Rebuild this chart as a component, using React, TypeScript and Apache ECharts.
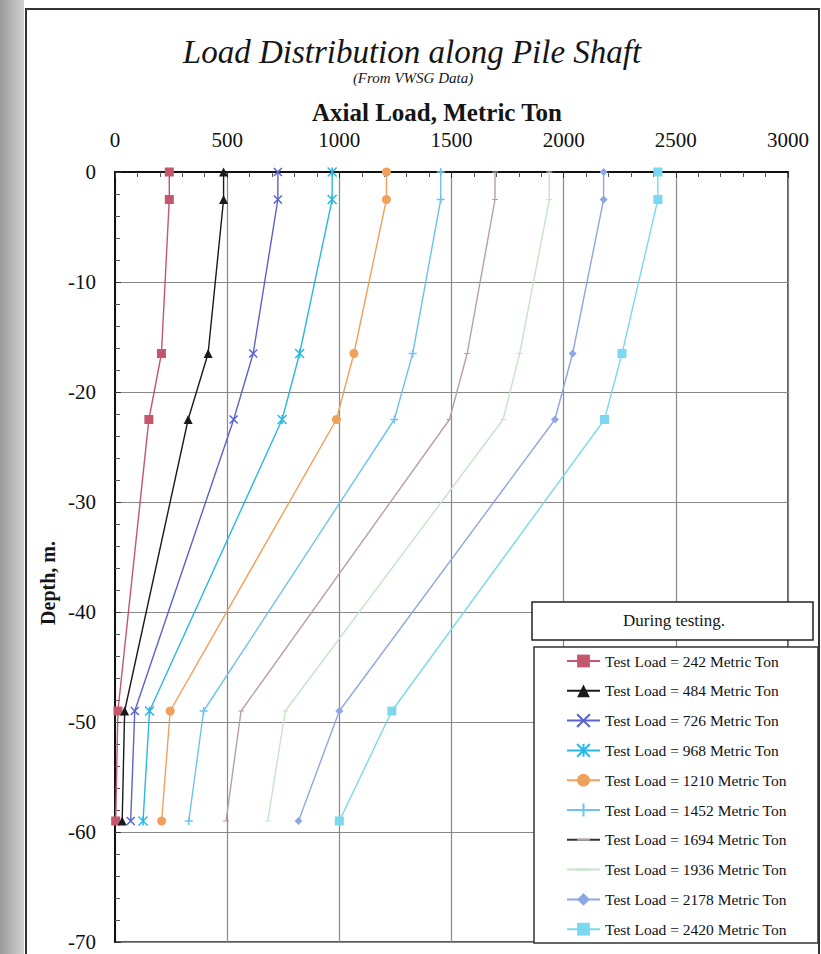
import React, { useEffect, useRef } from "react";
import * as echarts from "echarts";

const depths = [0, -2.5, -16.5, -22.5, -49, -59];
const testLoads = [242, 484, 726, 968, 1210, 1452, 1694, 1936, 2178, 2420];
const load242 = [242, 242, 207, 151, 13, 3];
const load484 = [484, 484, 415, 326, 43, 32];
const load726 = [726, 726, 616, 529, 88, 70];
const load968 = [968, 968, 823, 745, 154, 125];
const load1210 = [1210, 1210, 1065, 987, 246, 208];
const load1452 = [1452, 1452, 1327, 1245, 395, 329];
const load1694 = [1694, 1694, 1570, 1491, 562, 495];
const load1936 = [1936, 1936, 1804, 1730, 759, 681];
const load2178 = [2178, 2178, 2040, 1961, 1000, 818];
const load2420 = [2420, 2420, 2260, 2182, 1234, 1000];
const xTicks = [0, 500, 1000, 1500, 2000, 2500, 3000];
const yTicks = [0, -10, -20, -30, -40, -50, -60, -70];

const allLoads = [load242, load484, load726, load968, load1210, load1452, load1694, load1936, load2178, load2420];
const colors = ["#c4566e", "#1a1a1a", "#5a62cc", "#2ab8e0", "#f0a05a", "#6ec2ee", "#b89cb0", "#c6e4c6", "#8ea6e2", "#7ad8f0"];
const legendLine = ["#c4566e", "#1a1a1a", "#5a62cc", "#2ab8e0", "#f0a05a", "#6ec2ee", "#333333", "#c6e4c6", "#8ea6e2", "#7ad8f0"];
const DASH = "path://M0,4.2L10,4.2L10,5.8L0,5.8Z M5,0L5.01,0L5.01,0.01Z M5,10L5.01,10L5.01,9.99Z";
const symbols = [
  "rect",
  "triangle",
  "path://M0,0L10,10M10,0L0,10",
  "path://M0,0L10,10M10,0L0,10M5,0L5,10",
  "circle",
  "path://M5,0L5,10M2,5L8,5",
  DASH,
  DASH,
  "diamond",
  "rect",
];
const symbolSizes = [9, 9, 8, 9, 9, 8, 6, 6, 8, 9];
const strokeOnly = [false, false, true, true, false, true, false, false, false, false];

const FONT = "Liberation Serif";

export default function App() {
  const ref = useRef<HTMLDivElement>(null);
  useEffect(() => {
    if (!ref.current) return;
    const chart = echarts.init(ref.current, undefined, { renderer: "svg" });
    const names = testLoads.map((t) => `Test Load = ${t} Metric Ton`);
    const series = allLoads.map((arr, i) => ({
      name: names[i],
      type: "line",
      data: arr.map((v, j) => [v, depths[j]]),
      symbol: symbols[i],
      symbolSize: symbolSizes[i],
      showSymbol: true,
      lineStyle: { color: colors[i], width: 1.4 },
      itemStyle: strokeOnly[i]
        ? { color: colors[i], borderColor: colors[i], borderWidth: 1.5 }
        : { color: colors[i] },
      z: 3,
    }));
    const txt = (x: number, y: number, text: string, size: number, weight: string, style: string, rotation = 0) => ({
      type: "text",
      z: 60,
      x,
      y,
      rotation,
      style: {
        text,
        fontFamily: FONT,
        fontSize: size,
        fontWeight: weight,
        fontStyle: style,
        fill: "#151515",
        align: "center",
        verticalAlign: "middle",
      },
    });
    const option: any = {
      animation: false,
      backgroundColor: "#ffffff",
      textStyle: { fontFamily: FONT },
      grid: {
        left: 115,
        right: 33,
        top: 172,
        bottom: 12,
        containLabel: false,
        show: true,
        borderColor: "#222",
        borderWidth: 1.5,
      },
      xAxis: {
        type: "value",
        position: "top",
        min: xTicks[0],
        max: xTicks[xTicks.length - 1],
        interval: 500,
        axisLine: { show: true, lineStyle: { color: "#111", width: 2 } },
        axisTick: { show: true, inside: true, length: 6, lineStyle: { color: "#333" } },
        minorTick: { show: true, splitNumber: 5, length: 5, lineStyle: { color: "#555" } },
        splitLine: { show: true, lineStyle: { color: "#888", width: 1.2 } },
        axisLabel: {
          fontSize: 21,
          color: "#111",
          fontFamily: FONT,
          margin: 22,
          formatter: (v: number) => String(v),
        },
      },
      yAxis: {
        type: "value",
        min: yTicks[yTicks.length - 1],
        max: yTicks[0],
        interval: 10,
        axisLine: { show: true, lineStyle: { color: "#111", width: 2 } },
        axisTick: { show: true, inside: true, length: 6, lineStyle: { color: "#333" } },
        minorTick: { show: true, splitNumber: 5, length: 5, lineStyle: { color: "#555" } },
        splitLine: { show: true, lineStyle: { color: "#888", width: 1.2 } },
        axisLabel: {
          fontSize: 21,
          color: "#111",
          fontFamily: FONT,
          margin: 19,
          formatter: (v: number) => String(v),
        },
      },
      legend: {
        show: true,
        orient: "vertical",
        left: 561,
        top: 648,
        z: 100,
        itemWidth: 33,
        itemHeight: 16,
        itemGap: 13.8,
        textStyle: { fontSize: 15.5, lineHeight: 16, color: "#111", fontFamily: FONT },
        data: names.map((n, i) => ({ name: n, lineStyle: { color: legendLine[i] } })),
      },
      graphic: [
        {
          type: "rect",
          z: 1,
          shape: { x: 0, y: 0, width: 24, height: 954 },
          style: {
            fill: new echarts.graphic.LinearGradient(0, 0, 1, 0, [
              { offset: 0, color: "#9a9a9a" },
              { offset: 1, color: "#d2d2d2" },
            ]),
          },
        },
        {
          type: "polyline",
          z: 1,
          shape: { points: [[26, 954], [26, 9], [819, 9], [819, 954]] },
          style: { stroke: "#333", lineWidth: 2, fill: "none" },
        },
        txt(412, 52, "Load Distribution along Pile Shaft", 33, "normal", "italic"),
        txt(413, 78, "(From VWSG Data)", 15, "normal", "italic"),
        txt(437, 112, "Axial Load, Metric Ton", 25, "bold", "normal"),
        txt(48, 583, "Depth, m.", 20, "bold", "normal", Math.PI / 2),
        {
          type: "rect",
          z: 50,
          shape: { x: 532, y: 602, width: 281, height: 38 },
          style: { fill: "#fff", stroke: "#222", lineWidth: 1.5 },
        },
        txt(674, 620, "During testing.", 17, "normal", "normal"),
        {
          type: "rect",
          z: 50,
          shape: { x: 534, y: 647, width: 284, height: 296 },
          style: { fill: "#fff", stroke: "#333", lineWidth: 1.5 },
        },
      ],
      series,
    };
    chart.setOption(option);
    return () => chart.dispose();
  }, []);
  return (
    <div
      ref={ref}
      style={{ position: "fixed", left: 0, top: 0, width: 821, height: 954, background: "#fff" }}
    />
  );
}
